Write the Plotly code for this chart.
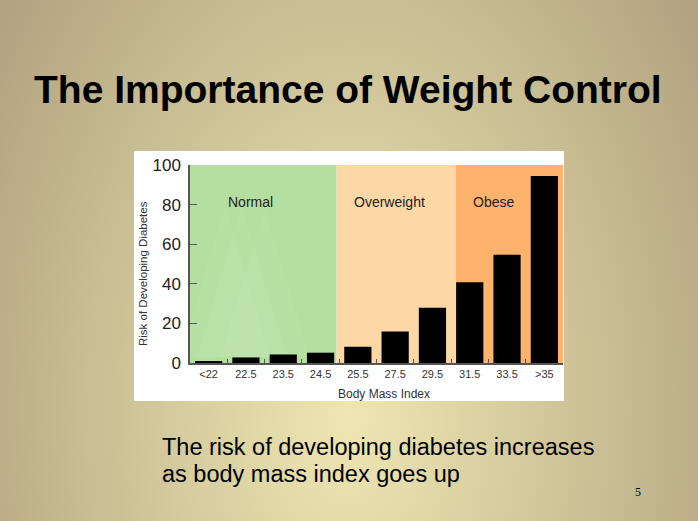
import base64
import plotly.graph_objects as go

# Data
bmi_labels = ["<22", "22.5", "23.5", "24.5", "25.5", "27.5", "29.5", "31.5", "33.5", ">35"]
risk_values = [1, 2.8, 4.3, 5.2, 8.2, 15.9, 27.9, 40.8, 54.7, 94.5]

# Weight categories (edges in category-index units) and label placement
region_names = ["Normal", "Overweight", "Obese"]
region_edges = [-0.5, 3.43, 6.63, 9.5]
region_colors = ["#b4dfa0", "#fdd7a6", "#fdb36c"]
region_label_x = [1.11, 4.84, 7.65]
region_label_y = 81.5

subtitle_lines = ["The risk of developing diabetes increases", "as body mass index goes up"]

W, H = 698, 521
L, R, T, B = 190, 135, 165, 158
pw, ph = W - L - R, H - T - B


def px_x(x):
    return (x - L) / pw


def px_y(y):
    return 1 - (y - T) / ph


# slide background: soft radial gradient
svg = f"""<svg xmlns='http://www.w3.org/2000/svg' width='{W}' height='{H}'>
<defs><radialGradient id='g' gradientUnits='userSpaceOnUse' cx='349' cy='410' r='420'
 gradientTransform='translate(349 410) scale(1 1.6) translate(-349 -410)'>
<stop offset='0' stop-color='#eee7b3'/><stop offset='1' stop-color='#b2a480'/>
</radialGradient></defs><rect width='{W}' height='{H}' fill='url(#g)'/></svg>"""
bg_src = "data:image/svg+xml;base64," + base64.b64encode(svg.encode()).decode()

fig = go.Figure()

fig.add_trace(go.Bar(
    x=bmi_labels,
    y=risk_values,
    width=0.73,
    marker=dict(color="black", line=dict(width=0)),
    hoverinfo="x+y",
))

shapes = [
    # white picture box
    dict(type="rect", xref="paper", yref="paper", layer="below",
         x0=px_x(134), x1=px_x(564), y0=px_y(401), y1=px_y(151),
         fillcolor="white", line=dict(width=0)),
]
for i, name in enumerate(region_names):
    shapes.append(dict(type="rect", xref="x", yref="y", layer="below",
                       x0=region_edges[i], x1=region_edges[i + 1], y0=0, y1=100,
                       fillcolor=region_colors[i], line=dict(width=0)))

# faint watermark triangles in the normal zone
for peak_x, peak_y in [(0.44, 80), (0.89, 80), (1.51, 78)]:
    shapes.append(dict(type="path", xref="x", yref="y", layer="below",
                       path=f"M {peak_x - 1.2},3 L {peak_x},{peak_y} L {peak_x + 1.2},3 Z",
                       fillcolor="rgba(255,255,255,0.05)", line=dict(width=0)))

font_main = "Liberation Sans, Arial"
annotations = [
    dict(text="<b>The Importance of Weight Control</b>", x=px_x(348), y=px_y(89),
         font=dict(family=font_main, size=39, color="black")),
    dict(text="Risk of Developing Diabetes", x=px_x(143), y=px_y(274), textangle=-90,
         font=dict(family=font_main, size=11.5, color="#333")),
    dict(text="Body Mass Index", x=px_x(384), y=px_y(394),
         font=dict(family=font_main, size=12, color="#333")),
    dict(text="5", x=px_x(638), y=px_y(492),
         font=dict(family="Liberation Serif, Times New Roman", size=12, color="black")),
]
for line, ly in zip(subtitle_lines, [447, 474]):
    annotations.append(dict(text=line, x=px_x(160), y=px_y(ly), xanchor="left",
                            font=dict(family=font_main, size=23.5, color="black")))
for a in annotations:
    a.update(xref="paper", yref="paper", showarrow=False, yanchor="middle")
    a.setdefault("xanchor", "center")

for name, lx in zip(region_names, region_label_x):
    annotations.append(dict(text=name, x=lx, y=region_label_y, xref="x", yref="y",
                            showarrow=False, xanchor="center", yanchor="middle",
                            font=dict(family=font_main, size=14, color="#222")))

fig.update_layout(
    width=W, height=H,
    margin=dict(l=L, r=R, t=T, b=B),
    paper_bgcolor="#c9bd92",
    plot_bgcolor="rgba(0,0,0,0)",
    showlegend=False,
    images=[dict(source=bg_src, xref="paper", yref="paper",
                 x=px_x(0), y=px_y(0), sizex=W / pw, sizey=H / ph,
                 xanchor="left", yanchor="top", sizing="stretch", layer="below")],
    shapes=shapes,
    annotations=annotations,
)

fig.update_xaxes(
    type="category", range=[-0.5, 9.5], tickson="boundaries",
    showline=True, linecolor="#555", linewidth=1.5,
    ticks="inside", ticklen=4, tickcolor="#555", showgrid=False, zeroline=False,
    tickfont=dict(family=font_main, size=11, color="#333"),
)

fig.update_yaxes(
    range=[0, 100], tickvals=[0, 20, 40, 60, 80, 100], showline=True,
    linecolor="#555", linewidth=1.5, ticks="inside", ticklen=7, tickcolor="#555",
    showgrid=False, zeroline=False, ticklabelstandoff=4,
    tickfont=dict(family=font_main, size=17, color="#222"),
)

fig.write_html("out.html", config={"displayModeBar": False},
               post_script="document.body.style.margin='0';")
